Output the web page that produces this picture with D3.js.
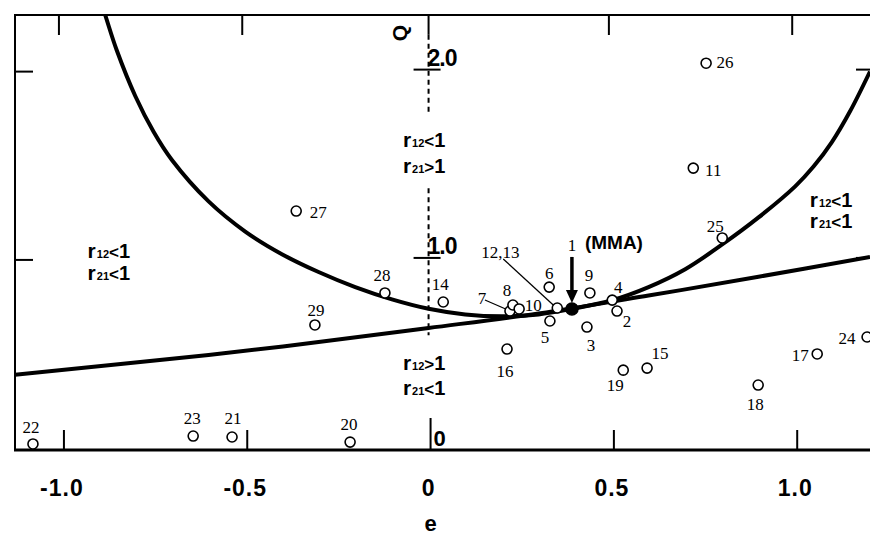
<!DOCTYPE html>
<html>
<head>
<meta charset="utf-8">
<script src="https://cdn.jsdelivr.net/npm/d3@7"></script>
<style>
body { margin: 0; background: #fff; }
</style>
</head>
<body>
<div id="chart-area"></div>
<script>
// monomers in the Q-e plane
var ids = ["1","2","3","4","5","6","7","8","9","10","11","12,13","14","15","16","17","18","19","20","21","22","23","24","25","26","27","28","29"];
var eValues = [0.391, 0.514, 0.432, 0.501, 0.331, 0.329, 0.222, 0.230, 0.440, 0.247, 0.722, 0.351, 0.040, 0.596, 0.214, 1.060, 0.899, 0.531, -0.214, -0.536, -1.079, -0.642, 1.196, 0.801, 0.757, -0.361, -0.119, -0.310];
var qValues = [0.729, 0.718, 0.633, 0.776, 0.665, 0.845, 0.718, 0.750, 0.814, 0.729, 1.477, 0.734, 0.766, 0.415, 0.516, 0.490, 0.325, 0.404, 0.022, 0.049, 0.012, 0.054, 0.580, 1.106, 2.034, 1.249, 0.814, 0.644];

// boundary r21 = 1 (U curve)
var curveE = [-0.92, -0.882, -0.85, -0.8, -0.75, -0.7, -0.6, -0.5, -0.4, -0.3, -0.2, -0.1, 0, 0.1, 0.2, 0.3, 0.39, 0.5, 0.6, 0.7, 0.8, 0.9, 1.0, 1.05, 1.1, 1.15, 1.204];
var curveQ = [2.52, 2.29, 2.10, 1.86, 1.67, 1.52, 1.30, 1.14, 1.02, 0.925, 0.845, 0.78, 0.73, 0.70, 0.69, 0.70, 0.729, 0.775, 0.845, 0.94, 1.07, 1.215, 1.38, 1.485, 1.615, 1.78, 1.99];

// boundary r12 = 1 (near straight line)
var lineE = [-1.128, -0.6, -0.3, 0, 0.3, 0.6, 0.9, 1.204];
var lineQ = [0.38, 0.485, 0.553, 0.628, 0.705, 0.80, 0.90, 1.005];

// tick labels
var eTicks = [-1.0, -0.5, 0, 0.5, 1.0];
var eTickLabels = ["-1.0", "-0.5", "0", "0.5", "1.0"];
var qTicks = [1.0, 2.0];
var qTickLabels = ["1.0", "2.0"];

// label placement (pixels, relative to each circle)
var labelDx = [0, 10, 4, 6, -5, 0, -28, -6, -1, 14, 20, -57, -3, 13, -2, -17, -3, -8, -1, 1, -2, -1, -20, -7, 19, 22, -3, 1];
var labelDy = [0, 16, 24, -7, 22, -8, -7, -9, -12, 2, 8, -50, -12, -9, 28, 7, 25, 21, -12, -13, -11, -12, 7, -6, 5, 7, -12, -9];

var width = 870;
var height = 556;

var svg = d3.select("#chart-area")
    .append("svg")
    .attr("width", width)
    .attr("height", height);

// SCALES
var x = d3.scaleLinear().domain([-1.128, 1.204]).range([15, 870]);
var y = d3.scaleLinear().domain([-0.02, 2.29]).range([450, 15]);

var pLeft = x.range()[0], pRight = x.range()[1];
var pTop = y.range()[1], pBottom = y.range()[0];

svg.append("defs").append("clipPath").attr("id", "frame")
    .append("rect")
    .attr("x", pLeft).attr("y", pTop)
    .attr("width", pRight - pLeft).attr("height", pBottom - pTop);

// FRAME
svg.append("line").attr("x1", pLeft).attr("x2", pRight + 2).attr("y1", pTop).attr("y2", pTop)
    .attr("stroke", "#000").attr("stroke-width", 2);
svg.append("line").attr("x1", pLeft).attr("x2", pLeft).attr("y1", pTop - 1).attr("y2", pBottom)
    .attr("stroke", "#000").attr("stroke-width", 2);
svg.append("line").attr("x1", pLeft - 1).attr("x2", pRight + 2).attr("y1", pBottom).attr("y2", pBottom)
    .attr("stroke", "#000").attr("stroke-width", 3);

// TICKS on the frame
var frameTicks = eTicks.filter(function (d) { return d !== 0; });
svg.selectAll(".ttick").data(frameTicks).enter().append("line")
    .attr("x1", function (d) { return x(d) - 3; }).attr("x2", function (d) { return x(d) - 3; })
    .attr("y1", pTop).attr("y2", pTop + 20)
    .attr("stroke", "#000").attr("stroke-width", 2);
svg.selectAll(".btick").data(frameTicks).enter().append("line")
    .attr("x1", function (d) { return x(d) + 2; }).attr("x2", function (d) { return x(d) + 2; })
    .attr("y1", pBottom).attr("y2", pBottom - 20)
    .attr("stroke", "#000").attr("stroke-width", 2);
svg.selectAll(".ltick").data(qTicks).enter().append("line")
    .attr("x1", pLeft).attr("x2", pLeft + 18)
    .attr("y1", function (d) { return y(d) + 2; }).attr("y2", function (d) { return y(d) + 2; })
    .attr("stroke", "#000").attr("stroke-width", 2);
svg.selectAll(".rtick").data(qTicks).enter().append("line")
    .attr("x1", pRight - 14).attr("x2", pRight)
    .attr("y1", function (d) { return y(d); }).attr("y2", function (d) { return y(d); })
    .attr("stroke", "#000").attr("stroke-width", 2);

// Q AXIS at e = 0 (solid stub, dashed pieces, bottom stub)
var x0 = x(0);
svg.append("line").attr("x1", x0).attr("x2", x0).attr("y1", pTop).attr("y2", y(2.185))
    .attr("stroke", "#000").attr("stroke-width", 2);
svg.append("line").attr("x1", x0).attr("x2", x0).attr("y1", y(2.185)).attr("y2", y(1.775))
    .attr("stroke", "#000").attr("stroke-width", 2).attr("stroke-dasharray", "5,4");
svg.append("line").attr("x1", x0).attr("x2", x0).attr("y1", y(1.37)).attr("y2", y(0.59))
    .attr("stroke", "#000").attr("stroke-width", 2).attr("stroke-dasharray", "5,4");
svg.append("line").attr("x1", x0 + 2).attr("x2", x0 + 2).attr("y1", y(0.15)).attr("y2", pBottom)
    .attr("stroke", "#000").attr("stroke-width", 2);

svg.selectAll(".ctick").data(qTicks).enter().append("line")
    .attr("x1", x0 - 15).attr("x2", x0 + 12)
    .attr("y1", function (d) { return y(d); }).attr("y2", function (d) { return y(d); })
    .attr("stroke", "#000").attr("stroke-width", 2);

svg.selectAll(".qlabel").data(qTicks).enter().append("text")
    .attr("x", x0 - 1)
    .attr("y", function (d) { return y(d) - 4; })
    .attr("font-family", "Liberation Sans, Arial, sans-serif")
    .attr("font-weight", "bold").attr("font-size", "23px")
    .attr("letter-spacing", "-1px")
    .text(function (d, i) { return qTickLabels[i]; });

svg.append("text")
    .attr("x", x0 + 5).attr("y", pBottom - 4)
    .attr("font-family", "Liberation Sans, Arial, sans-serif")
    .attr("font-weight", "bold").attr("font-size", "22px")
    .text("0");

svg.append("text")
    .attr("transform", "translate(" + (x0 - 22) + "," + 33 + ") rotate(-90)")
    .attr("text-anchor", "middle")
    .attr("font-family", "Liberation Sans, Arial, sans-serif")
    .attr("font-weight", "bold").attr("font-size", "21px")
    .text("Q");

// e axis labels
svg.selectAll(".elabel").data(eTicks).enter().append("text")
    .attr("x", function (d) { return x(d); })
    .attr("y", 496)
    .attr("text-anchor", "middle")
    .attr("font-family", "Liberation Sans, Arial, sans-serif")
    .attr("font-weight", "bold").attr("font-size", "23px")
    .attr("letter-spacing", "1px")
    .text(function (d, i) { return eTickLabels[i]; });

svg.append("text")
    .attr("x", x0 + 2).attr("y", 531)
    .attr("text-anchor", "middle")
    .attr("font-family", "Liberation Sans, Arial, sans-serif")
    .attr("font-weight", "bold").attr("font-size", "22px")
    .text("e");

// CURVES
var plot = svg.append("g").attr("clip-path", "url(#frame)");

var line = d3.line()
    .x(function (d) { return x(d[0]); })
    .y(function (d) { return y(d[1]); })
    .curve(d3.curveCatmullRom.alpha(0.5));

plot.append("path")
    .datum(curveE.map(function (e, i) { return [e, curveQ[i]]; }))
    .attr("d", line)
    .attr("fill", "none").attr("stroke", "#000").attr("stroke-width", 4);

plot.append("path")
    .datum(lineE.map(function (e, i) { return [e, lineQ[i]]; }))
    .attr("d", line)
    .attr("fill", "none").attr("stroke", "#000").attr("stroke-width", 4);

// REGION LABELS
var regions = [
    { e: -0.93, q: 1.0, sub: ["12", "21"], op: ["<", "<"], gap: 22 },
    { e: -0.07, q: 1.59, sub: ["12", "21"], op: ["<", ">"], gap: 26 },
    { e: -0.07, q: 0.405, sub: ["12", "21"], op: [">", "<"], gap: 25 },
    { e: 1.04, q: 1.27, sub: ["12", "21"], op: ["<", "<"], gap: 21 }
];
regions.forEach(function (r) {
    for (var k = 0; k < 2; k++) {
        var t = svg.append("text")
            .attr("x", x(r.e)).attr("y", y(r.q) + k * r.gap)
            .attr("font-family", "Liberation Sans, Arial, sans-serif")
            .attr("font-weight", "bold");
        t.append("tspan").attr("font-size", "21px").text("r");
        t.append("tspan").attr("font-size", "11px").attr("dx", "1").text(r.sub[k]);
        t.append("tspan").attr("font-size", "17px").text(r.op[k]);
        t.append("tspan").attr("font-size", "20px").text("1");
    }
});

// LEADER LINES (7 and 12,13)
var leaders = [[6, -25, -11, -2, -1], [11, -54, -49, -4, -3]];
leaders.forEach(function (l) {
    var cx = x(eValues[l[0]]), cy = y(qValues[l[0]]);
    svg.append("line")
        .attr("x1", cx + l[1]).attr("y1", cy + l[2])
        .attr("x2", cx + l[3]).attr("y2", cy + l[4])
        .attr("stroke", "#000").attr("stroke-width", 1.3);
});

// POINTS
svg.selectAll(".pt").data(ids).enter().append("circle")
    .attr("cx", function (d, i) { return x(eValues[i]); })
    .attr("cy", function (d, i) { return y(qValues[i]); })
    .attr("r", function (d, i) { return i === 0 ? 6 : 5; })
    .attr("fill", function (d, i) { return i === 0 ? "#000" : "#fff"; })
    .attr("stroke", "#000").attr("stroke-width", 1.6);

svg.selectAll(".ptlabel").data(ids.slice(1)).enter().append("text")
    .attr("x", function (d, i) { return x(eValues[i + 1]) + labelDx[i + 1]; })
    .attr("y", function (d, i) { return y(qValues[i + 1]) + labelDy[i + 1]; })
    .attr("text-anchor", "middle")
    .attr("font-family", "Liberation Serif, Times New Roman, serif")
    .attr("font-size", "17px")
    .text(function (d) { return d; });

// MMA marker: arrow and label
var mx = x(eValues[0]), my = y(qValues[0]);
svg.append("line").attr("x1", mx).attr("x2", mx).attr("y1", my - 52).attr("y2", my - 16)
    .attr("stroke", "#000").attr("stroke-width", 3.5);
svg.append("path")
    .attr("d", "M" + (mx - 6) + "," + (my - 19) + "L" + (mx + 6) + "," + (my - 19) + "L" + mx + "," + (my - 6) + "Z")
    .attr("fill", "#000");
svg.append("text")
    .attr("x", mx).attr("y", my - 58)
    .attr("text-anchor", "middle")
    .attr("font-family", "Liberation Serif, Times New Roman, serif")
    .attr("font-size", "17px")
    .text(ids[0]);
svg.append("text")
    .attr("x", mx + 13).attr("y", my - 60)
    .attr("font-family", "Liberation Sans, Arial, sans-serif")
    .attr("font-weight", "bold").attr("font-size", "19px")
    .text("(MMA)");
</script>
</body>
</html>
